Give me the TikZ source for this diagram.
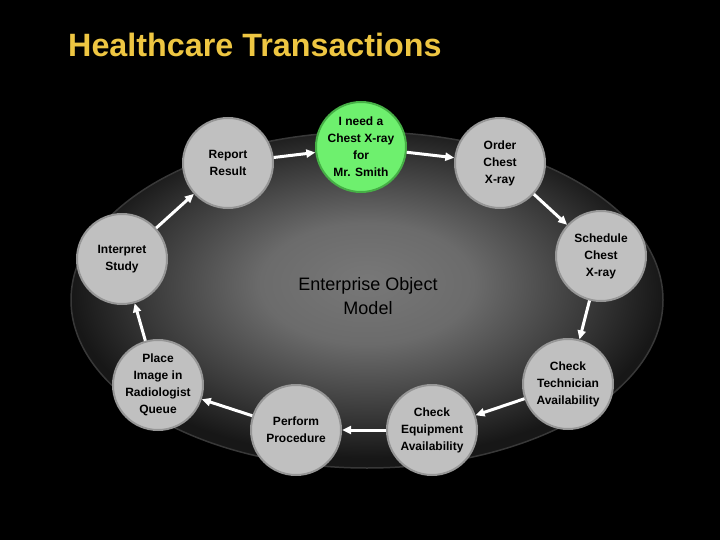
\documentclass[tikz,border=0pt]{standalone}
\usepackage{fontspec}
\setmainfont{Liberation Sans}
\usetikzlibrary{arrows.meta}

\definecolor{titlegold}{RGB}{238,198,66}
\definecolor{taskgray}{RGB}{192,192,192}
\definecolor{rimgray}{RGB}{150,150,150}
\definecolor{startgreen}{RGB}{110,240,110}
\definecolor{rimgreen}{RGB}{70,175,70}

\newcommand*{\picw}{720}
\newcommand*{\pich}{540}

% shading of the model ellipse
\pgfdeclareradialshading{modelshade}{\pgfpoint{0bp}{3bp}}{color(0bp)=(white!47!black); color(9bp)=(white!42!black); color(19bp)=(white!22!black); color(25bp)=(white!9!black); color(50bp)=(white!9!black)}

\begin{document}
\begin{tikzpicture}
[
	x=1pt,y=-1pt,
	task/.style={circle,draw=rimgray,line width=2pt,fill=taskgray,minimum size=90pt,inner sep=0pt,align=center,font=\fontsize{12}{17}\selectfont\bfseries},
	start/.style={task,draw=rimgreen,fill=startgreen},
	flow/.style={-{Triangle[length=9pt,width=8pt]},white,line width=3pt}
]

	% background
	\fill[black] (0,0) rectangle (\picw,\pich);
	\useasboundingbox (0,0) rectangle (\picw,\pich);

	% title
	\node[anchor=base west,inner sep=0pt,text=titlegold,font=\fontsize{32.3}{36}\selectfont\bfseries] (title) at (68,57) {Healthcare Transactions};

	% model
	\shade[shading=modelshade] (367,300) ellipse [x radius=296,y radius=168];
	\draw[white!22!black,line width=1.5pt] (367,300) ellipse [x radius=296,y radius=168];
	\node[align=center,font=\fontsize{18}{24}\selectfont] (model) at (368,296) {Enterprise Object\\Model};

	% steps
	\node[start] (need) at (361,147) {I need a\\Chest X-ray\\for\\Mr. Smith};
	\node[task] (order) at (500,163) {Order\\Chest\\X-ray};
	\node[task] (schedule) at (601,256) {Schedule\\Chest\\X-ray};
	\node[task] (tech) at (568,384) {Check\\Technician\\Availability};
	\node[task] (equip) at (432,430) {Check\\Equipment\\Availability};
	\node[task] (perform) at (296,430) {Perform\\Procedure};
	\node[task] (place) at (158,385) {Place\\Image in\\Radiologist\\Queue};
	\node[task] (interpret) at (122,259) {Interpret\\Study};
	\node[task] (report) at (228,163) {Report\\Result};

	% arrows
	\draw[flow] (need) -- (order);
	\draw[flow] (order) -- (schedule);
	\draw[flow] (schedule) -- (tech);
	\draw[flow] (tech) -- (equip);
	\draw[flow] (equip) -- (perform);
	\draw[flow] (perform) -- (place);
	\draw[flow] (place) -- (interpret);
	\draw[flow] (interpret) -- (report);
	\draw[flow] (report) -- (need);

\end{tikzpicture}
\end{document}
